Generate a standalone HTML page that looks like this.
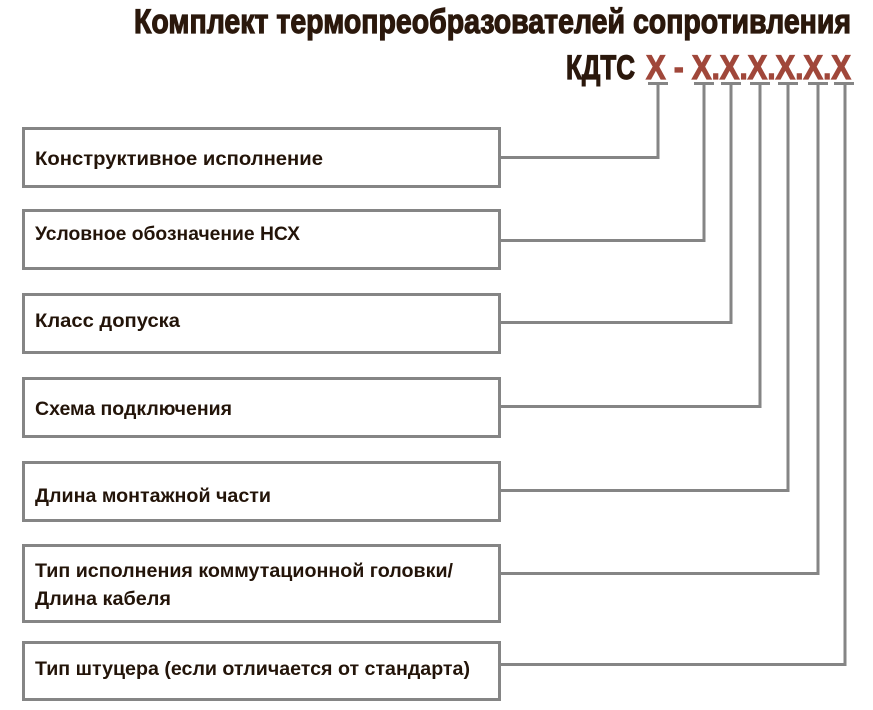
<!DOCTYPE html>
<html><head><meta charset="utf-8"><style>
html,body{margin:0;padding:0;background:#fff;}
svg{display:block;}
</style></head><body>
<svg width="873" height="710" viewBox="0 0 873 710" xmlns="http://www.w3.org/2000/svg">
<g font-family="Liberation Sans, sans-serif" font-weight="bold" fill="#2b180c" stroke-width="1.2">
<text x="134" y="33" font-size="34" stroke="#2b180c" textLength="717" lengthAdjust="spacingAndGlyphs">Комплект термопреобразователей сопротивления</text>
<text x="566" y="79" font-size="34" stroke="#2b180c" textLength="69" lengthAdjust="spacingAndGlyphs">КДТС</text>
<text x="646" y="79" font-size="34" fill="#a0473a" stroke="#a0473a" textLength="205" lengthAdjust="spacingAndGlyphs">X - X.X.X.X.X.X</text>
</g>
<g stroke="#858585" stroke-width="3" fill="none">
<rect x="23.5" y="128.5" width="476" height="58"/>
<rect x="23.5" y="210.5" width="476" height="58"/>
<rect x="23.5" y="294.5" width="476" height="58"/>
<rect x="23.5" y="378.5" width="476" height="58"/>
<rect x="23.5" y="462.5" width="476" height="58"/>
<rect x="23.5" y="545.5" width="476" height="76"/>
<rect x="23.5" y="642.5" width="476" height="57"/>
<path d="M648 83.5H668 M658 83.5V157.5H500"/>
<path d="M694 83.5H714 M704 83.5V240.5H500"/>
<path d="M721 83.5H741 M731 83.5V322.5H500"/>
<path d="M750 83.5H770 M760 83.5V406.5H500"/>
<path d="M778 83.5H798 M788 83.5V490.5H500"/>
<path d="M808 83.5H828 M818 83.5V573.5H500"/>
<path d="M834 83.5H854 M845 83.5V664.5H500"/>
</g>
<g font-family="Liberation Sans, sans-serif" font-weight="bold" font-size="19" fill="#231409">
<text x="35" y="165" textLength="288" lengthAdjust="spacingAndGlyphs">Конструктивное исполнение</text>
<text x="35" y="240" textLength="265" lengthAdjust="spacingAndGlyphs">Условное обозначение НСХ</text>
<text x="35" y="327" textLength="145" lengthAdjust="spacingAndGlyphs">Класс допуска</text>
<text x="35" y="415" textLength="197" lengthAdjust="spacingAndGlyphs">Схема подключения</text>
<text x="35" y="502" textLength="236" lengthAdjust="spacingAndGlyphs">Длина монтажной части</text>
<text x="35" y="577" textLength="418" lengthAdjust="spacingAndGlyphs">Тип исполнения коммутационной головки/</text>
<text x="35" y="605" textLength="136" lengthAdjust="spacingAndGlyphs">Длина кабеля</text>
<text x="35" y="675" textLength="435" lengthAdjust="spacingAndGlyphs">Тип штуцера (если отличается от стандарта)</text>
</g>
</svg>
</body></html>
